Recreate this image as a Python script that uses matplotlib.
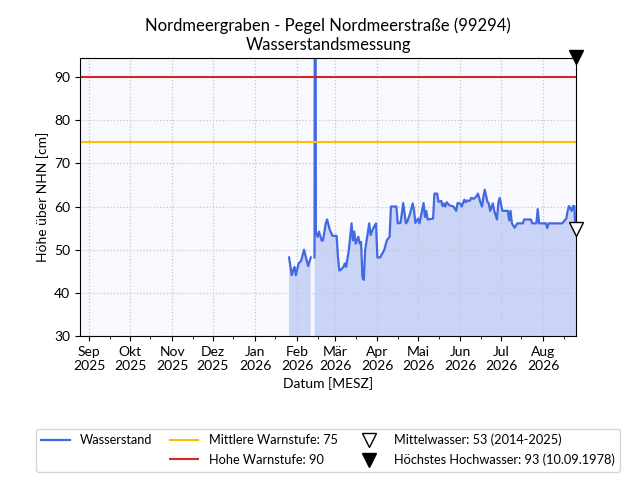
import numpy as np
import pandas as pd
import matplotlib
matplotlib.use("Agg")
import matplotlib.pyplot as plt
import matplotlib.dates as mdates
import matplotlib.transforms as mtransforms
from matplotlib.lines import Line2D
from matplotlib.ticker import FuncFormatter

plt.rcParams['font.family'] = ['Lato', 'DejaVu Sans']

# ----------------------------
# data
# ----------------------------
dates = [
    "2026-01-26", "2026-01-28", "2026-01-29", "2026-01-30", "2026-01-31",
    "2026-02-02", "2026-02-04", "2026-02-06", "2026-02-08", "2026-02-09",
    "2026-02-11", "2026-02-12",
    "2026-02-13 18:00", "2026-02-14 00:00", "2026-02-14 12:00", "2026-02-14 18:00",
    "2026-02-16", "2026-02-17", "2026-02-19", "2026-02-20", "2026-02-22",
    "2026-02-23", "2026-02-25", "2026-02-27", "2026-03-02", "2026-03-03",
    "2026-03-04", "2026-03-05", "2026-03-07", "2026-03-08", "2026-03-09",
    "2026-03-11", "2026-03-13", "2026-03-14", "2026-03-15", "2026-03-16",
    "2026-03-18", "2026-03-19", "2026-03-20", "2026-03-21", "2026-03-22",
    "2026-03-23", "2026-03-26", "2026-03-27", "2026-03-29", "2026-03-31",
    "2026-04-01", "2026-04-03", "2026-04-06", "2026-04-08", "2026-04-10",
    "2026-04-11", "2026-04-15", "2026-04-16", "2026-04-18", "2026-04-19",
    "2026-04-20", "2026-04-22", "2026-04-23", "2026-04-25", "2026-04-27",
    "2026-04-28", "2026-04-29", "2026-05-01", "2026-05-02", "2026-05-04",
    "2026-05-05", "2026-05-06", "2026-05-07", "2026-05-08", "2026-05-12",
    "2026-05-13", "2026-05-15", "2026-05-16", "2026-05-18", "2026-05-19",
    "2026-05-20", "2026-05-21", "2026-05-22", "2026-05-24", "2026-05-27",
    "2026-05-29", "2026-05-30", "2026-06-01", "2026-06-02", "2026-06-04",
    "2026-06-05", "2026-06-06", "2026-06-08", "2026-06-09", "2026-06-11",
    "2026-06-13", "2026-06-14", "2026-06-16", "2026-06-17", "2026-06-18",
    "2026-06-19", "2026-06-21", "2026-06-22", "2026-06-23", "2026-06-25",
    "2026-06-26", "2026-06-28", "2026-06-29", "2026-06-30", "2026-07-02",
    "2026-07-06", "2026-07-07", "2026-07-08", "2026-07-09", "2026-07-11",
    "2026-07-13", "2026-07-17", "2026-07-18", "2026-07-23", "2026-07-24",
    "2026-07-27", "2026-07-28", "2026-07-29", "2026-08-03", "2026-08-04",
    "2026-08-05", "2026-08-15", "2026-08-18", "2026-08-19", "2026-08-20",
    "2026-08-22", "2026-08-23", "2026-08-24", "2026-08-24 12:00", "2026-08-25 18:00",
]
level = [
    48.2, 44.1, 45.2, 46.0, 44.1,
    46.8, 47.5, 50.0, 47.5, 46.2,
    48.2, np.nan,
    48.2, 125.0, 125.0, 54.0,
    53.0, 54.2, 52.1, 52.2, 56.1,
    57.0, 54.6, 53.2, 53.2, 48.3,
    45.2, 45.3, 46.0, 46.8, 46.0,
    49.9, 56.1, 52.2, 54.2, 51.4,
    53.0, 51.4, 51.8, 43.7, 43.0,
    49.9, 56.1, 53.4, 55.0, 56.1,
    48.2, 48.2, 49.9, 52.2, 53.0,
    60.0, 60.0, 56.1, 56.2, 58.3,
    60.8, 56.1, 56.5, 58.3, 60.7,
    59.1, 56.2, 57.2, 56.1, 59.3,
    60.8, 57.6, 59.0, 57.0, 57.2,
    63.0, 63.0, 61.1, 61.3, 60.1,
    60.7, 60.0, 61.0, 60.3, 60.0,
    59.0, 60.8, 60.7, 60.0, 61.6,
    61.0, 61.4, 61.3, 62.0, 61.8,
    62.4, 63.0, 60.8, 60.0, 62.2,
    63.9, 61.1, 60.7, 59.0, 60.7,
    59.0, 57.0, 60.8, 62.0, 59.0,
    59.0, 56.8, 59.0, 56.1, 55.1,
    56.1, 56.1, 57.0, 57.0, 56.1,
    56.1, 59.4, 56.1, 56.1, 55.0,
    56.1, 56.1, 57.2, 59.0, 60.1,
    59.0, 60.1, 60.1, 56.1, 56.1,
]

WARN_MID = 75
WARN_HIGH = 90
MW = 53
HHW = 93
x_range = ("2025-08-25 04:00", "2026-08-25 04:00")

MONTHS_DE = ["Jan", "Feb", "Mär", "Apr", "Mai", "Jun",
             "Jul", "Aug", "Sep", "Okt", "Nov", "Dez"]

# ----------------------------
# plotting
# ----------------------------
t = pd.to_datetime(dates, format="mixed")
y = np.array(level, dtype=float)
x0, x1 = pd.to_datetime(x_range[0]), pd.to_datetime(x_range[1])

fig, ax = plt.subplots(figsize=(6.4, 4.8), dpi=100)
fig.subplots_adjust(left=0.125, right=0.9, top=0.879, bottom=0.3)
ax.set_facecolor("#f8f8ff")

ax.fill_between(t, 0, y, color="royalblue", alpha=0.25, linewidth=0)
ax.plot(t, y, color="royalblue", linewidth=1.6)

ax.axhline(WARN_MID, color="#ffbf00", linewidth=1.5)
ax.axhline(WARN_HIGH, color="#d62728", linewidth=1.5)

# triangles sit with their tip on the value
tip = ax.transData + mtransforms.ScaledTranslation(0, 7.5 / 100, fig.dpi_scale_trans)
ax.plot([x1], [MW], marker="v", markersize=10.5, markerfacecolor="white",
        markeredgecolor="black", linestyle="none", clip_on=False,
        transform=tip, zorder=5)
ax.plot([x1], [HHW], marker="v", markersize=10.5, color="black",
        linestyle="none", clip_on=False, transform=tip, zorder=5)

ax.set_xlim(x0, x1)
ax.set_ylim(30, 94.4)
ax.set_yticks([30, 40, 50, 60, 70, 80, 90])

ax.xaxis.set_major_locator(mdates.MonthLocator())
ax.xaxis.set_minor_locator(mdates.MonthLocator(bymonthday=16))
ax.xaxis.set_major_formatter(FuncFormatter(
    lambda v, _: "%s\n%d" % (MONTHS_DE[mdates.num2date(v).month - 1],
                             mdates.num2date(v).year)))
ax.grid(True, which="major", linestyle=":", color="#c8c8c8", linewidth=0.9)
ax.tick_params(labelsize=10)

ax.set_title("Nordmeergraben - Pegel Nordmeerstraße (99294)\nWasserstandsmessung",
             fontsize=12)
ax.set_xlabel("Datum [MESZ]", fontsize=10)
ax.set_ylabel("Höhe über NHN [cm]", fontsize=10)

handles = [
    Line2D([], [], color="royalblue", linewidth=1.6),
    Line2D([], [], linestyle="none"),
    Line2D([], [], color="#ffbf00", linewidth=1.5),
    Line2D([], [], color="#d62728", linewidth=1.5),
    Line2D([], [], marker="v", markersize=10.5, markerfacecolor="white",
           markeredgecolor="black", linestyle="none"),
    Line2D([], [], marker="v", markersize=10.5, color="black", linestyle="none"),
]
labels = [
    "Wasserstand", "",
    "Mittlere Warnstufe: %d" % WARN_MID, "Hohe Warnstufe: %d" % WARN_HIGH,
    "Mittelwasser: %d (2014-2025)" % MW, "Höchstes Hochwasser: %d (10.09.1978)" % HHW,
]
ax.legend(handles, labels, loc="upper center", bbox_to_anchor=(0.5, -0.31),
          ncol=3, fontsize=9.2, columnspacing=1.4, handlelength=2.2,
          labelspacing=0.6)

fig.savefig("out.png", dpi=100)
